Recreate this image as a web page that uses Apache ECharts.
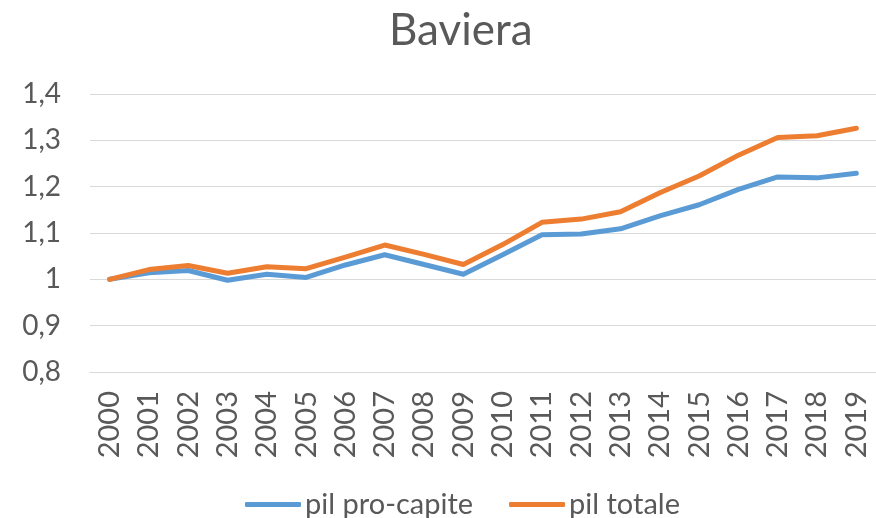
<!DOCTYPE html>
<html>
<head>
<meta charset="utf-8">
<script src="https://cdn.jsdelivr.net/npm/echarts@6/dist/echarts.min.js"></script>
<style>
html, body { margin: 0; padding: 0; background: #fff; }
#chart { width: 876px; height: 518px; }
</style>
</head>
<body>
<div id="chart"></div>
<script>
var anni = ['2000', '2001', '2002', '2003', '2004', '2005', '2006', '2007', '2008', '2009',
	'2010', '2011', '2012', '2013', '2014', '2015', '2016', '2017', '2018', '2019'];
var pilProCapite = [1.000, 1.014, 1.019, 0.998, 1.011, 1.004, 1.031, 1.053, 1.032, 1.011,
	1.053, 1.096, 1.098, 1.109, 1.137, 1.161, 1.194, 1.221, 1.219, 1.229];
var pilTotale = [1.000, 1.021, 1.030, 1.013, 1.027, 1.023, 1.048, 1.074, 1.054, 1.032,
	1.075, 1.123, 1.130, 1.146, 1.187, 1.223, 1.268, 1.306, 1.310, 1.326];

var font = 'Lato, "Open Sans", sans-serif';
var grigio = '#595959';

var getOption = function() {
	var option = {
		backgroundColor: '#fff',
		title: {
			text: 'Baviera',
			left: 384,
			top: 4,
			textStyle: {
				fontFamily: font,
				fontSize: 44,
				fontWeight: 'normal',
				color: grigio
			}
		},
		legend: {
			top: 485,
			left: 240,
			icon: 'roundRect',
			itemWidth: 56,
			itemHeight: 5,
			itemGap: 36,
			textStyle: {
				fontFamily: font,
				fontSize: 29,
				color: grigio,
				padding: [0, 0, 0, -1]
			},
			data: ['pil pro-capite', 'pil totale']
		},
		grid: {
			left: 90,
			width: 790,
			top: 94,
			height: 278
		},
		xAxis: [{
			type: 'category',
			boundaryGap: true,
			data: anni,
			axisLine: { lineStyle: { color: '#D9D9D9', width: 1 } },
			axisTick: { show: false },
			axisLabel: {
				rotate: 90,
				margin: 19,
				fontFamily: font,
				fontSize: 29,
				color: grigio
			}
		}],
		yAxis: [{
			type: 'value',
			min: 0.8,
			max: 1.4,
			interval: 0.1,
			axisLine: { show: false },
			axisTick: { show: false },
			splitLine: { lineStyle: { color: '#D9D9D9', width: 1 } },
			axisLabel: {
				margin: 29,
				fontFamily: font,
				fontSize: 28,
				color: grigio,
				formatter: function(v) {
					return (Math.round(v * 10) / 10).toString().replace('.', ',');
				}
			}
		}],
		series: [{
			name: 'pil pro-capite',
			type: 'line',
			data: pilProCapite,
			symbol: 'none',
			color: '#5B9BD5',
			lineStyle: { width: 5, cap: 'round', join: 'round' }
		}, {
			name: 'pil totale',
			type: 'line',
			data: pilTotale,
			symbol: 'none',
			color: '#ED7D31',
			lineStyle: { width: 5, cap: 'round', join: 'round' }
		}]
	};
	return option;
};
var chart = echarts.init(document.getElementById('chart'));
chart.setOption(getOption());
</script>
</body>
</html>
